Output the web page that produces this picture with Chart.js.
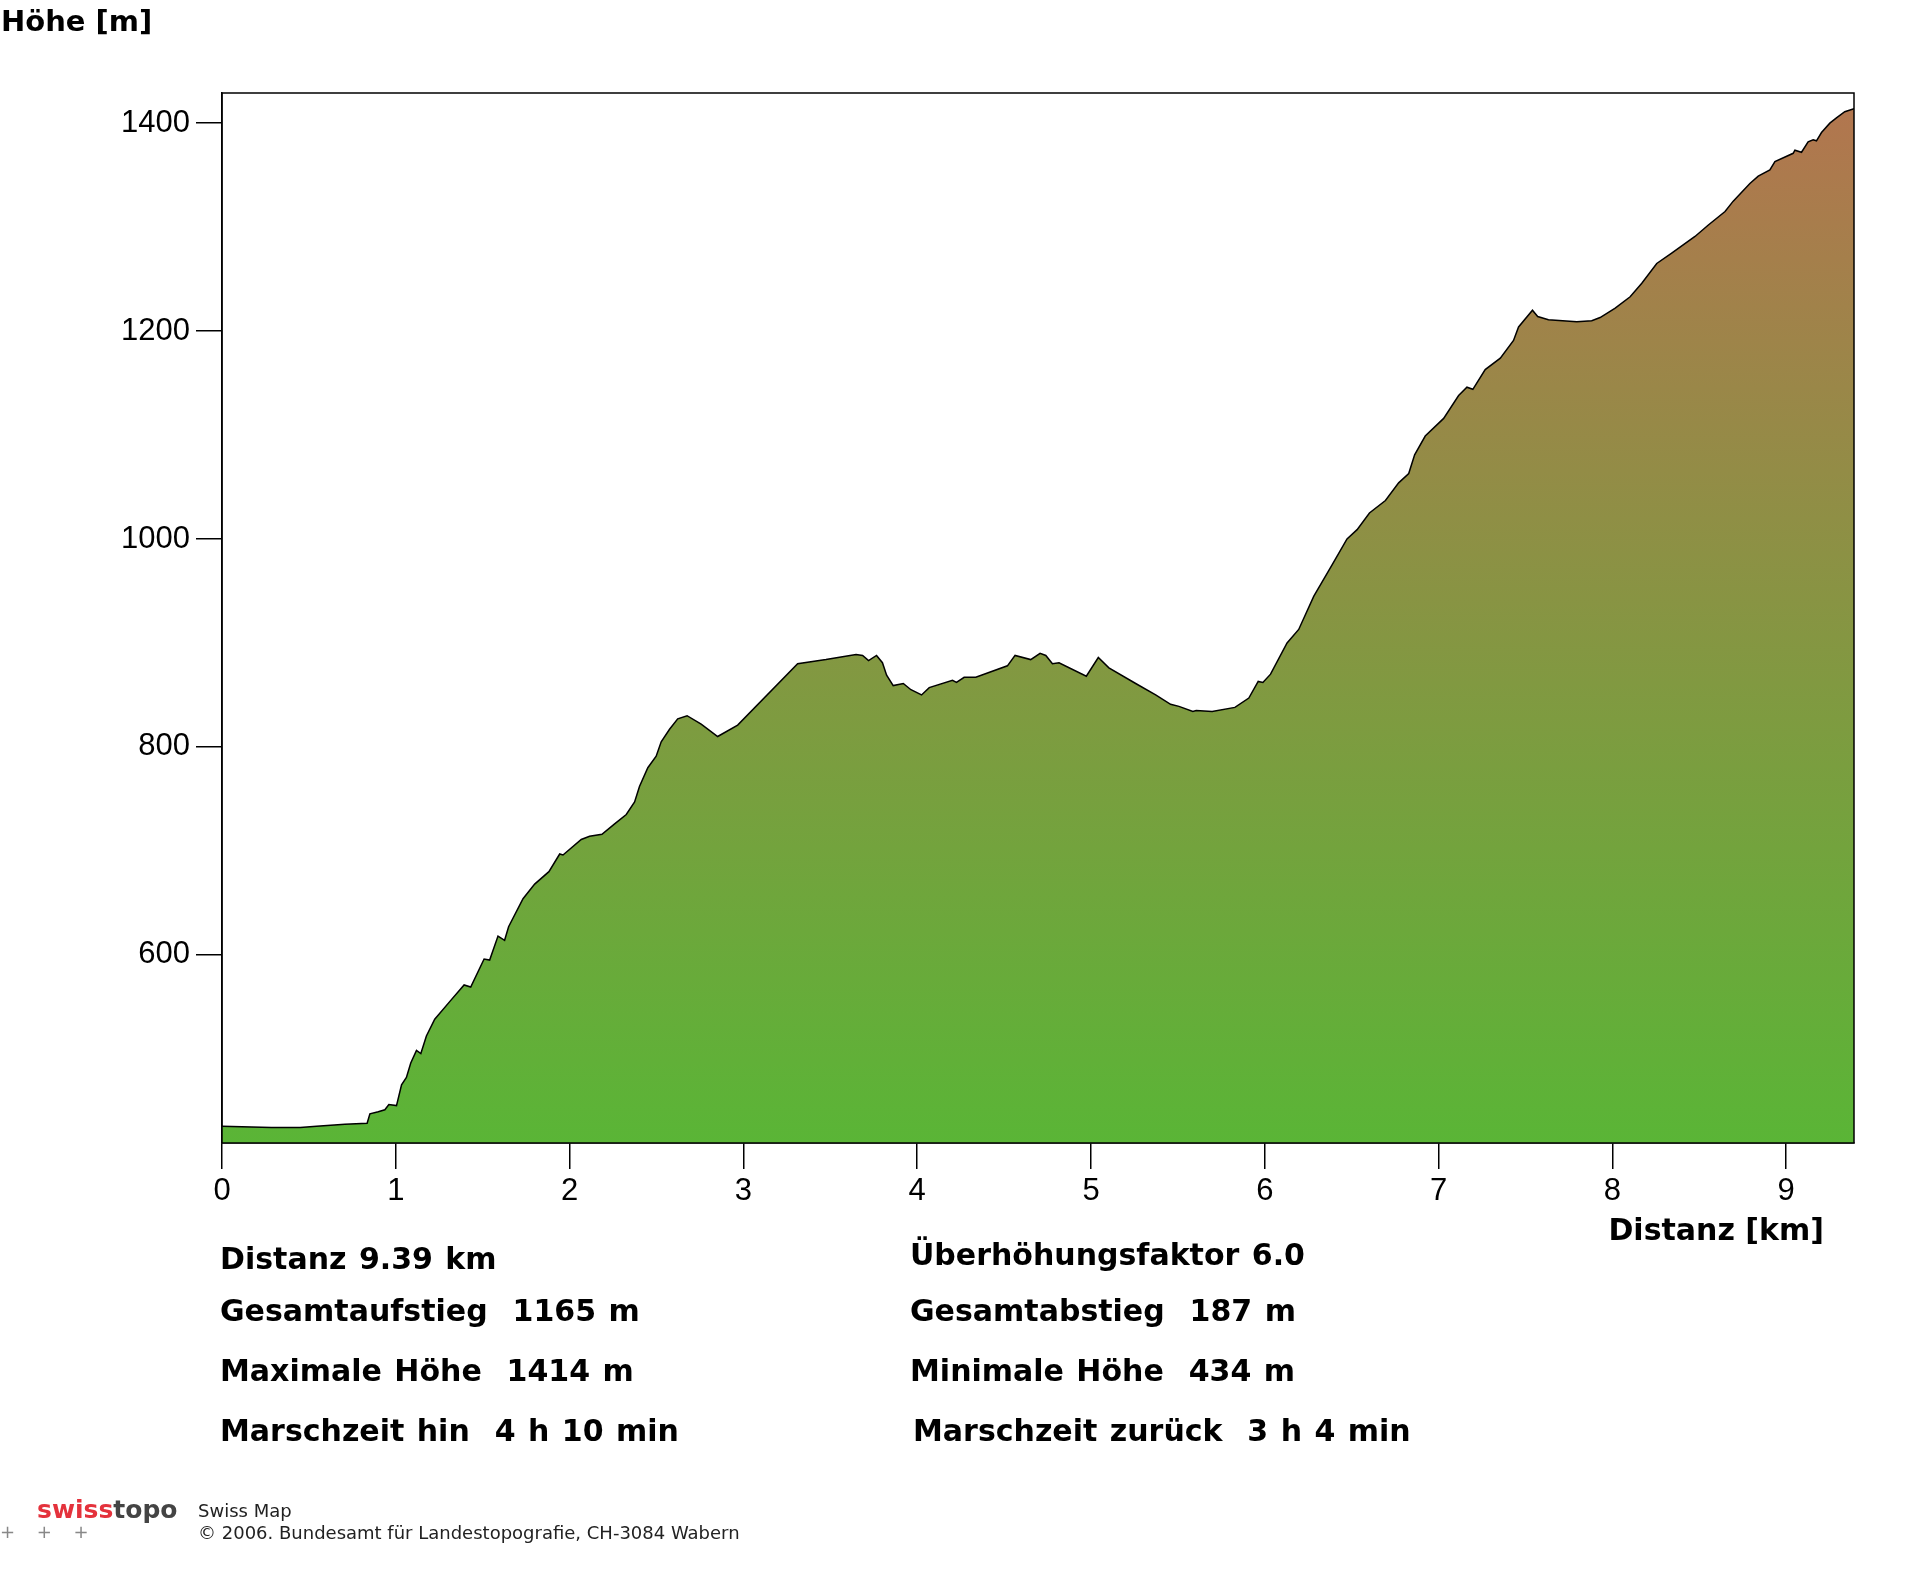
<!DOCTYPE html>
<html lang="de">
<head>
<meta charset="UTF-8">
<title>Höhenprofil</title>
<script src="https://cdn.jsdelivr.net/npm/chart.js"></script>
<style>
  html, body { margin: 0; padding: 0; background: #fff; }
  #wrap { position: relative; width: 1920px; height: 1572px; }
  #wrap canvas { position: absolute; left: 0; top: 0; }
  .t { position: absolute; white-space: nowrap; font-family: "DejaVu Sans", Verdana, sans-serif; line-height: 1; color: #000; }
  .b { font-weight: bold; font-size: 30px; word-spacing: 2px; }
  .f { font-size: 18px; color: #222; }
</style>
</head>
<body>
<div id="wrap">
  <canvas id="profile"></canvas>

  <div class="t b" style="left:1px; top:7px; font-size:29px; word-spacing:0;">Höhe [m]</div>
  <div class="t b" style="right:96px; top:1215px; word-spacing:0;">Distanz [km]</div>

  <div class="t b" style="left:220px; top:1244px;">Distanz 9.39 km</div>
  <div class="t b" style="left:220px; top:1296px;">Gesamtaufstieg&nbsp; 1165 m</div>
  <div class="t b" style="left:220px; top:1356px;">Maximale Höhe&nbsp; 1414 m</div>
  <div class="t b" style="left:220px; top:1416px;">Marschzeit hin&nbsp; 4 h 10 min</div>

  <div class="t b" style="left:910px; top:1240px;">Überhöhungsfaktor 6.0</div>
  <div class="t b" style="left:910px; top:1296px;">Gesamtabstieg&nbsp; 187 m</div>
  <div class="t b" style="left:910px; top:1356px;">Minimale Höhe&nbsp; 434 m</div>
  <div class="t b" style="left:913px; top:1416px;">Marschzeit zurück&nbsp; 3 h 4 min</div>

  <div class="t" style="left:37px; top:1497px; font-size:25px; font-weight:bold;"><span style="color:#e4323c;">swiss</span><span style="color:#444;">topo</span></div>
  <div class="t" style="left:0px; top:1523px; font-size:18px; color:#888; word-spacing:16px;">+ + +</div>
  <div class="t f" style="left:198px; top:1502px;">Swiss Map</div>
  <div class="t f" style="left:198px; top:1524px;">© 2006. Bundesamt für Landestopografie, CH-3084 Wabern</div>
</div>

<script>
  // profile data (distance in km, height in m)
  const distKm = [
    0, 0.285, 0.45, 0.544, 0.707, 0.835, 0.851, 0.899, 0.937, 0.96,
    1.004, 1.033, 1.061, 1.086, 1.119, 1.144, 1.176, 1.224, 1.31, 1.393,
    1.431, 1.508, 1.54, 1.588, 1.626, 1.649, 1.732, 1.799, 1.881, 1.943,
    1.962, 2.067, 2.115, 2.186, 2.259, 2.326, 2.374, 2.402, 2.45, 2.498,
    2.527, 2.575, 2.622, 2.676, 2.757, 2.852, 2.967, 3.312, 3.475, 3.648,
    3.686, 3.72, 3.766, 3.8, 3.824, 3.862, 3.92, 3.964, 4.025, 4.069,
    4.203, 4.226, 4.27, 4.337, 4.519, 4.563, 4.653, 4.707, 4.74, 4.778,
    4.816, 4.973, 5.042, 5.103, 5.257, 5.372, 5.458, 5.506, 5.586, 5.605,
    5.697, 5.828, 5.908, 5.962, 5.989, 6.033, 6.128, 6.195, 6.282, 6.387,
    6.473, 6.531, 6.602, 6.694, 6.77, 6.828, 6.862, 6.923, 7.029, 7.115,
    7.163, 7.197, 7.268, 7.355, 7.431, 7.46, 7.54, 7.57, 7.632, 7.795,
    7.881, 7.929, 8.016, 8.102, 8.169, 8.255, 8.341, 8.475, 8.552, 8.648,
    8.695, 8.791, 8.839, 8.906, 8.935, 9.04, 9.05, 9.088, 9.126, 9.155,
    9.174, 9.203, 9.251, 9.289, 9.337, 9.39
  ];
  const heightM = [
    435, 434, 434, 435, 437, 438, 447, 449, 451, 456,
    455, 475, 482, 496, 508, 505, 522, 538, 555, 571,
    569, 596, 595, 618, 614, 627, 654, 668, 680, 697,
    696, 711, 714, 716, 726, 735, 747, 762, 780, 791,
    805, 817, 827, 830, 822, 810, 821, 880, 884, 889,
    888, 883, 888, 881, 869, 859, 861, 855, 850, 857,
    864, 862, 867, 867, 878, 888, 884, 890, 888, 880,
    881, 868, 886, 876, 861, 850, 841, 839, 834, 835,
    834, 838, 847, 863, 862, 870, 900, 913, 945, 975,
    1000, 1009, 1025, 1037, 1054, 1063, 1081, 1099, 1116, 1138,
    1146, 1144, 1163, 1174, 1191, 1204, 1220, 1214, 1211, 1209,
    1210, 1213, 1222, 1233, 1246, 1265, 1275, 1291, 1302, 1315,
    1325, 1342, 1349, 1355, 1363, 1371, 1374, 1372, 1382, 1384,
    1383, 1391, 1400, 1405, 1411, 1414
  ];
  const xTicks = [0, 1, 2, 3, 4, 5, 6, 7, 8, 9];
  const yTicks = [600, 800, 1000, 1200, 1400];

  const points = distKm.map((d, i) => ({ x: d, y: heightM[i] }));

  // green at the valley floor, brown towards the top
  function terrainFill(context) {
    const chart = context.chart;
    const area = chart.chartArea;
    if (!area) return '#5ab536';
    const g = chart.ctx.createLinearGradient(0, area.bottom, 0, area.top);
    g.addColorStop(0, '#5ab536');
    g.addColorStop(1, '#b3754f');
    return g;
  }

  // closed box around the plot
  const frame = {
    id: 'frame',
    afterDraw(chart) {
      const { ctx, chartArea: a } = chart;
      ctx.save();
      ctx.strokeStyle = '#000';
      ctx.lineWidth = 1.5;
      ctx.strokeRect(a.left, a.top, a.right - a.left, a.bottom - a.top);
      ctx.restore();
    }
  };

  const tickFont = { family: '"Liberation Sans", Arial, sans-serif', size: 31 };

  new Chart(document.getElementById('profile'), {
    type: 'line',
    data: {
      datasets: [{
        data: points,
        borderColor: '#000',
        borderWidth: 1.5,
        backgroundColor: terrainFill,
        fill: 'start',
        pointRadius: 0,
        tension: 0
      }]
    },
    options: {
      responsive: true,
      maintainAspectRatio: false,
      devicePixelRatio: 1,
      animation: false,
      layout: { padding: { left: 0, top: 93, right: 66, bottom: 0 } },
      plugins: {
        legend: { display: false },
        tooltip: { enabled: false }
      },
      scales: {
        x: {
          type: 'linear',
          min: 0,
          max: 9.39,
          afterFit: s => { s.height = 429; },
          afterBuildTicks: s => { s.ticks = xTicks.map(v => ({ value: v })); },
          ticks: { font: tickFont, color: '#000', padding: 4, maxRotation: 0, callback: v => String(v) },
          grid: { drawOnChartArea: false, drawTicks: true, tickLength: 26, color: '#000', lineWidth: 1.5 },
          border: { display: true, color: '#000', width: 1.5 }
        },
        y: {
          min: 419,
          max: 1429,
          afterFit: s => { s.width = 222; },
          afterBuildTicks: s => { s.ticks = yTicks.map(v => ({ value: v })); },
          ticks: { font: tickFont, color: '#000', padding: 6, callback: v => String(v) },
          grid: { drawOnChartArea: false, drawTicks: true, tickLength: 26, color: '#000', lineWidth: 1.5 },
          border: { display: true, color: '#000', width: 1.5 }
        }
      }
    },
    plugins: [frame]
  });
</script>
</body>
</html>
